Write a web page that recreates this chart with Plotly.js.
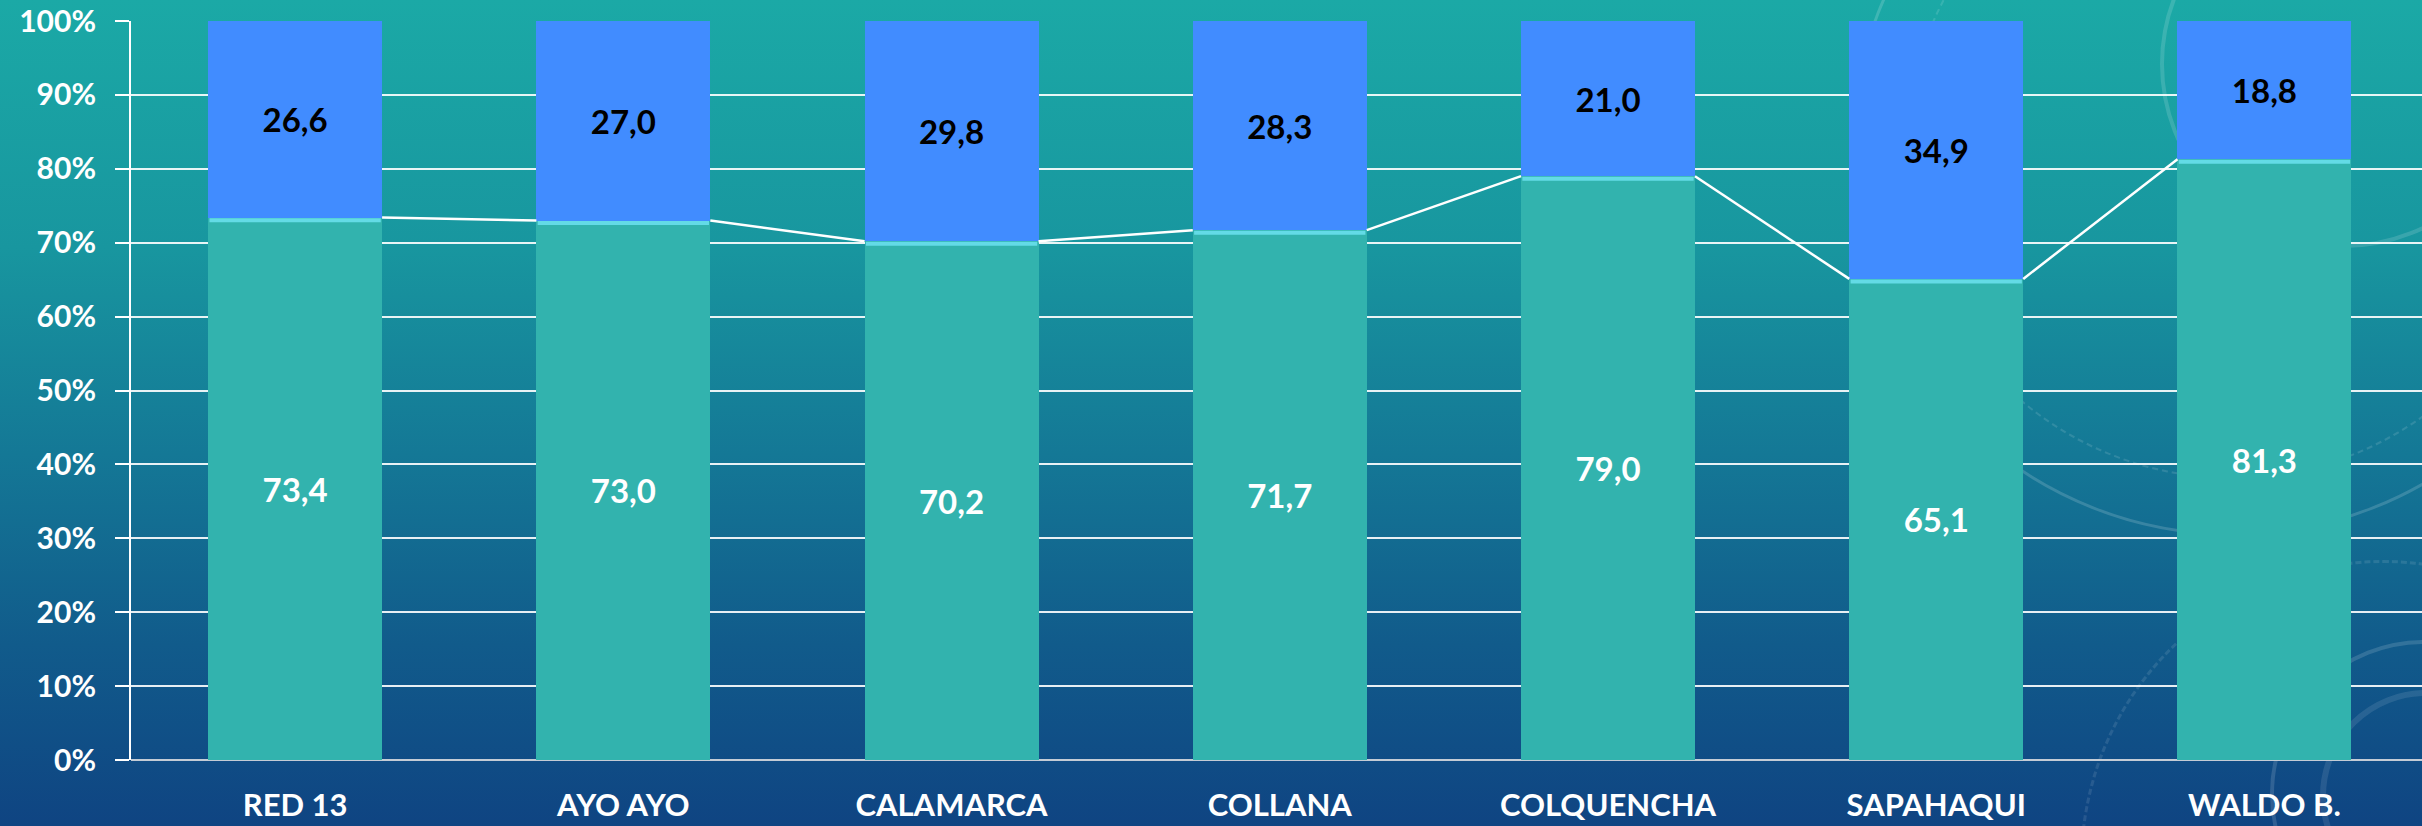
<!DOCTYPE html>
<html>
<head>
<meta charset="utf-8">
<script src="https://cdn.plot.ly/plotly-3.0.1.min.js"></script>
<style>
  html, body { margin:0; padding:0; width:2422px; height:826px; overflow:hidden; }
  body {
    background: linear-gradient(180deg, #1ba9a6 0%, #18969f 30%, #147896 55%, #115b8b 78%, #0f4482 100%);
    position: relative;
  }
  .deco { position:absolute; border-radius:50%; pointer-events:none; }
  #chart { position:absolute; left:0; top:0; width:2422px; height:826px; }
</style>
</head>
<body>
<div class="deco" style="left:1850px; top:-230px; width:760px; height:760px; border:3px solid rgba(255,255,255,0.16);"></div>
<div class="deco" style="left:1905px; top:-175px; width:650px; height:650px; border:2px dashed rgba(255,255,255,0.12);"></div>
<div class="deco" style="left:2160px; top:-120px; width:360px; height:360px; border:4px solid rgba(255,255,255,0.14);"></div>
<div class="deco" style="left:2270px; top:640px; width:300px; height:300px; border:4px solid rgba(255,255,255,0.14);"></div>
<div class="deco" style="left:2320px; top:690px; width:200px; height:200px; border:6px solid rgba(255,255,255,0.10);"></div>
<div class="deco" style="left:2080px; top:560px; width:600px; height:600px; border:3px dashed rgba(255,255,255,0.10);"></div>
<div id="chart"></div>
<script>
const categories = ["RED 13", "AYO AYO", "CALAMARCA", "COLLANA", "COLQUENCHA", "SAPAHAQUI", "WALDO B."];
const lowerValues = [73.4, 73.0, 70.2, 71.7, 79.0, 65.1, 81.3];
const upperValues = [26.6, 27.0, 29.8, 28.3, 21.0, 34.9, 18.8];
const yTickValues = [0, 10, 20, 30, 40, 50, 60, 70, 80, 90, 100];
const yTickLabels = ["0%", "10%", "20%", "30%", "40%", "50%", "60%", "70%", "80%", "90%", "100%"];

const barWidth = 0.53;
const idx = categories.map((_, i) => i);

// series lines connecting the tops of the lower segments
const connX = [], connY = [];
for (let i = 0; i < categories.length - 1; i++) {
  connX.push(i + barWidth / 2, i + 1 - barWidth / 2, null);
  connY.push(lowerValues[i], lowerValues[i + 1], null);
}
// highlight strip at the top of each lower segment
const hlX = [], hlY = [];
for (let i = 0; i < categories.length; i++) {
  hlX.push(i - barWidth / 2 + 0.004, i + barWidth / 2 - 0.004, null);
  hlY.push(lowerValues[i] - 0.35, lowerValues[i] - 0.35, null);
}

const font = "Lato, 'Open Sans', sans-serif";

const traces = [
  {
    type: "bar", x: idx, y: lowerValues, width: barWidth,
    marker: { color: "#32b3ae", line: { width: 0 } },
    texttemplate: "<b>%{y:.1f}</b>", textposition: "inside", insidetextanchor: "middle",
    textangle: 0, constraintext: "none",
    textfont: { family: font, size: 33, color: "#ffffff" },
    hoverinfo: "skip", showlegend: false
  },
  {
    type: "bar", x: idx, y: upperValues, width: barWidth,
    marker: { color: "#418cff", line: { width: 0 } },
    texttemplate: "<b>%{y:.1f}</b>", textposition: "inside", insidetextanchor: "middle",
    textangle: 0, constraintext: "none",
    textfont: { family: font, size: 33, color: "#000000" },
    hoverinfo: "skip", showlegend: false
  },
  {
    type: "scatter", mode: "lines", x: hlX, y: hlY,
    line: { color: "#63dbe6", width: 4 }, hoverinfo: "skip", showlegend: false
  },
  {
    type: "scatter", mode: "lines", x: connX, y: connY,
    line: { color: "#ffffff", width: 2.5 }, hoverinfo: "skip", showlegend: false
  }
];

const layout = {
  width: 2422, height: 826,
  margin: { l: 131, r: 0, t: 21, b: 66, pad: 0 },
  paper_bgcolor: "rgba(0,0,0,0)",
  plot_bgcolor: "rgba(0,0,0,0)",
  barmode: "stack",
  separators: ",.",
  showlegend: false,
  xaxis: {
    range: [-0.5, 6.48],
    tickmode: "array", tickvals: idx, ticktext: categories.map(c => "<b>" + c + "</b>"),
    ticks: "", showgrid: false, zeroline: false, showline: false,
    ticklabelstandoff: 24,
    tickfont: { family: font, size: 31, color: "#ffffff" },
    fixedrange: true
  },
  yaxis: {
    range: [0, 100],
    tickmode: "array", tickvals: yTickValues, ticktext: yTickLabels.map(t => "<b>" + t + "</b>"),
    showgrid: true, gridcolor: "rgba(255,255,255,0.9)", gridwidth: 2,
    zeroline: true, zerolinecolor: "#c4ccd6", zerolinewidth: 2,
    showline: true, linecolor: "#ffffff", linewidth: 2,
    ticks: "outside", ticklen: 14, tickwidth: 2, tickcolor: "#ffffff",
    ticklabelstandoff: 13,
    tickfont: { family: font, size: 30, color: "#ffffff" },
    fixedrange: true
  }
};

Plotly.newPlot("chart", traces, layout, { staticPlot: true, displayModeBar: false });
</script>
</body>
</html>
